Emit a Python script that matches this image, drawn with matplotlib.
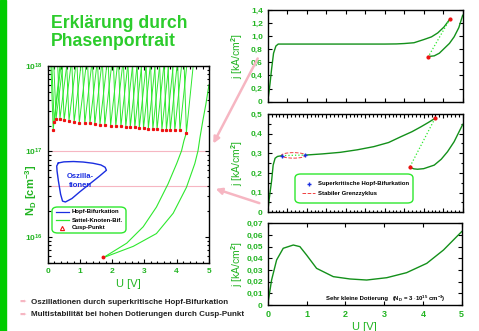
import matplotlib
matplotlib.use('Agg')
import matplotlib.pyplot as plt
import numpy as np
from matplotlib.patches import FancyBboxPatch, FancyArrowPatch, Ellipse, Rectangle
from matplotlib.lines import Line2D
from matplotlib.ticker import FuncFormatter, MultipleLocator, FixedLocator

plt.rcParams['font.family'] = ['Liberation Sans', 'DejaVu Sans']
plt.rcParams['font.weight'] = 'bold'
plt.rcParams['mathtext.fontset'] = 'custom'
plt.rcParams['mathtext.rm'] = 'Liberation Sans:bold'
plt.rcParams['mathtext.bf'] = 'Liberation Sans:bold'
plt.rcParams['mathtext.default'] = 'bf'

W, H = 479, 331
GREEN_TXT = '#22b422'
GREEN_DARK = '#13901a'
GREEN_LIGHT = '#2ee82e'
PINK = '#f6b6c2'

# ---- phase portrait (left) ----
cusp_u = [0.17, 0.20, 0.26, 0.38, 0.51, 0.66, 0.82, 0.98, 1.15, 1.31, 1.46, 1.62, 1.77, 1.95, 2.11,
          2.27, 2.42, 2.56, 2.70, 2.84, 2.97, 3.12, 3.26, 3.39, 3.54, 3.68, 3.80, 3.94, 4.10, 4.30]
cusp_n = [1.78e17, 2.19e17, 2.42e17, 2.42e17, 2.33e17, 2.28e17, 2.21e17, 2.17e17, 2.13e17, 2.12e17,
          2.07e17, 2.06e17, 2.04e17, 2.00e17, 1.99e17, 1.97e17, 1.95e17, 1.93e17, 1.91e17, 1.88e17,
          1.86e17, 1.85e17, 1.83e17, 1.81e17, 1.80e17, 1.79e17, 1.78e17, 1.77e17, 1.76e17, 1.66e17]
branch_top = 1e18
branch_left = 0.07
branch_right = 0.21

sn_left_u = [1.72, 2.45, 2.96, 3.37, 3.73, 4.00, 4.15, 4.22, 4.30]
sn_left_n = [5.75e15, 8.5e15, 1.32e16, 2.24e16, 4.17e16, 7.24e16, 1.02e17, 1.32e17, 1.66e17]
sn_right_u = [1.72, 2.65, 3.37, 3.89, 4.30, 4.56, 4.66, 4.72, 4.81, 4.90, 5.00]
sn_right_n = [5.75e15, 7.8e15, 1.1e16, 1.9e16, 3.8e16, 7.2e16, 1.02e17, 1.45e17, 2.3e17, 3.5e17, 6.0e17]
cusp_main = (1.70, 5.9e15)

hopf_u = [0.33, 0.5, 0.8, 1.1, 1.4, 1.65, 1.78, 1.82, 1.6, 1.3, 1.0, 0.75, 0.55, 0.46, 0.40, 0.33, 0.29, 0.28, 0.33]
hopf_logn = [16.865, 16.878, 16.882, 16.876, 16.862, 16.842, 16.815, 16.78, 16.71, 16.62, 16.53, 16.45,
             16.41, 16.42, 16.50, 16.66, 16.77, 16.83, 16.865]
cut_lines = [1e17, 4e16]

# ---- I-V curves (right) ----
top_u1 = [0, 0.03, 0.06, 0.10, 0.15, 0.21, 0.27, 1.0, 2.0, 3.0, 3.3, 3.5, 3.75, 4.01, 4.2, 4.36, 4.52, 4.67]
top_j1 = [0, 0.13, 0.28, 0.50, 0.74, 0.85, 0.88, 0.88, 0.88, 0.88, 0.882, 0.888, 0.90, 0.95, 0.99, 1.05, 1.14, 1.26]
top_ud = [4.67, 4.12]
top_jd = [1.26, 0.69]
top_u2 = [4.12, 4.27, 4.40, 4.53, 4.66, 4.78, 4.90, 5.0]
top_j2 = [0.69, 0.70, 0.74, 0.815, 0.89, 0.99, 1.13, 1.32]

mid_u1 = [0, 0.04, 0.10, 0.14, 0.19, 0.25, 0.36]
mid_j1 = [0, 0.07, 0.16, 0.24, 0.275, 0.284, 0.288]
mid_uh = [0.36, 0.66, 0.96]
mid_jh = [0.288, 0.290, 0.291]
mid_u2 = [0.96, 1.4, 1.86, 2.3, 2.72, 3.1, 3.41, 3.7, 3.93, 4.12, 4.29]
mid_j2 = [0.291, 0.297, 0.305, 0.318, 0.334, 0.355, 0.384, 0.41, 0.435, 0.457, 0.478]
mid_ud = [4.29, 3.64]
mid_jd = [0.478, 0.229]
mid_u3 = [3.64, 3.75, 3.84, 4.0, 4.27, 4.45, 4.61, 4.78, 5.0]
mid_j3 = [0.229, 0.221, 0.219, 0.222, 0.24, 0.27, 0.308, 0.359, 0.447]
hopf_pts_u = [0.36, 0.96]
hopf_pts_j = [0.288, 0.291]

bot_u = [0, 0.10, 0.23, 0.40, 0.66, 0.83, 1.0, 1.26, 1.69, 2.12, 2.55, 3.07, 3.58, 4.1, 4.53, 5.0]
bot_j = [0, 0.0214, 0.0386, 0.0486, 0.0514, 0.050, 0.0429, 0.0314, 0.0243, 0.0223, 0.0214, 0.0234,
         0.0277, 0.0357, 0.0471, 0.0629]


def rect(x0, y0, x1, y1):
    return [x0 / W, 1 - y1 / H, (x1 - x0) / W, (y1 - y0) / H]


def fp(x, y):
    return (x / W, 1 - y / H)


fig = plt.figure(figsize=(W / 100, H / 100), dpi=100, facecolor='white')

# green bar
fig.patches.append(Rectangle((0, 0), 5.5 / W, 1, transform=fig.transFigure, color='#00cc00', zorder=0))

fig.text(*fp(51, 28), 'Erklärung durch', fontsize=12.7, color='#2ccc2c', fontweight='bold')
fig.text(*fp(51, 46), 'Phasenportrait', fontsize=12.7, color='#2ccc2c', fontweight='bold')


def style_axes(ax):
    ax.tick_params(which='both', direction='in', top=True, right=True,
                   labelsize=6, labelcolor=GREEN_TXT, width=0.8)
    ax.tick_params(which='major', length=3)
    ax.tick_params(which='minor', length=1.8)
    for s in ax.spines.values():
        s.set_linewidth(1.0)


# left panel
axl = fig.add_axes(rect(47.7, 65.7, 209, 263))
style_axes(axl)
axl.set_yscale('log')
axl.set_xlim(0, 5)
axl.set_ylim(10 ** 15.698, 1e18)
for n in cut_lines:
    axl.axhline(n, color=PINK, lw=0.8, zorder=1)
for u, n in zip(cusp_u, cusp_n):
    axl.plot([u - branch_left, u, u + branch_right], [branch_top, n, branch_top],
             color=GREEN_LIGHT, lw=0.7, zorder=2)
axl.plot(sn_left_u, sn_left_n, color=GREEN_LIGHT, lw=0.8, zorder=2)
axl.plot(sn_right_u, sn_right_n, color=GREEN_LIGHT, lw=0.8, zorder=2)
axl.plot(cusp_u, cusp_n, ls='none', marker='s', ms=1.3, color='#ee1111', zorder=3)
axl.plot(*cusp_main, marker='o', ms=1.8, color='#ee1111', zorder=3)
axl.plot(hopf_u, [10 ** v for v in hopf_logn], color='#1a2ee0', lw=1.0, zorder=3)
axl.text(1.0, 10 ** 16.66, 'Oszilla-\ntionen', color='#1a2ee0', fontsize=5.5,
         ha='center', va='center', linespacing=1.4)
axl.yaxis.set_major_locator(FixedLocator([1e16, 1e17, 1e18]))
axl.yaxis.set_major_formatter(FuncFormatter(lambda v, p: r'$\mathbf{10^{%d}}$' % round(np.log10(v))))
axl.xaxis.set_major_locator(MultipleLocator(1))
axl.xaxis.set_minor_locator(MultipleLocator(0.2))
axl.tick_params(axis='y', which='minor', labelleft=False)
axl.set_xlabel('U [V]', fontsize=8, color=GREEN_TXT, labelpad=3)
fig.text(*fp(31, 190), r'N$_{D}$ [cm$^{-3}$]', rotation=90, fontsize=8, color=GREEN_TXT,
         ha='center', va='center')

# left legend
fig.patches.append(FancyBboxPatch(fp(52, 233), 74 / W, 26 / H, transform=fig.transFigure,
                                  boxstyle='round,pad=0,rounding_size=0.012', fc='white',
                                  ec=GREEN_LIGHT, lw=1.0, zorder=5))
leg_l = [('Hopf-Bifurkation', '#1a2ee0', '-', 212), ('Sattel-Knoten-Bif.', GREEN_LIGHT, '-', 220),
         ('Cusp-Punkt', '#ee1111', '^', 228)]
for label, col, sty, yy in leg_l:
    if sty == '-':
        fig.lines.append(Line2D([56 / W, 69 / W], [1 - yy / H] * 2, transform=fig.transFigure,
                                color=col, lw=0.9, zorder=6))
    else:
        fig.lines.append(Line2D([62 / W], [1 - yy / H], transform=fig.transFigure, marker='^',
                                ms=3, mfc='none', mec=col, mew=0.8, ls='none', zorder=6))
    fig.text(*fp(72, yy), label, fontsize=4.3, color='black', va='center', zorder=6)


def comma(dec):
    def f(v, p):
        if abs(v) < 1e-9:
            return '0'
        return ('%.*f' % (dec, v)).replace('.', ',')
    return FuncFormatter(f)


# top right
axt = fig.add_axes(rect(267.7, 10, 462.7, 101.7))
style_axes(axt)
axt.set_xlim(0, 5)
axt.set_ylim(0, 1.4)
axt.plot(top_u1, top_j1, color=GREEN_DARK, lw=1.0)
axt.plot(top_u2, top_j2, color=GREEN_DARK, lw=1.0)
axt.plot(top_ud, top_jd, color=GREEN_LIGHT, lw=0.9, ls=':')
axt.plot([top_ud[0], top_ud[1]], [top_jd[0], top_jd[1]], ls='none', marker='o', ms=2, color='#ee1111')
axt.yaxis.set_major_locator(MultipleLocator(0.2))
axt.yaxis.set_major_formatter(comma(1))
axt.xaxis.set_major_locator(MultipleLocator(0.5))
axt.tick_params(labelbottom=False)

# middle right
axm = fig.add_axes(rect(267.7, 114, 462.7, 212.3))
style_axes(axm)
axm.set_xlim(0, 5)
axm.set_ylim(0, 0.5)
axm.plot(mid_u1, mid_j1, color=GREEN_DARK, lw=1.0)
axm.plot(mid_u2, mid_j2, color=GREEN_DARK, lw=1.0)
axm.plot(mid_u3, mid_j3, color=GREEN_DARK, lw=1.0)
axm.plot(mid_uh, mid_jh, color=GREEN_LIGHT, lw=0.9, ls=':')
axm.plot(mid_ud, mid_jd, color=GREEN_LIGHT, lw=0.9, ls=':')
axm.add_patch(Ellipse((0.66, 0.2895), 0.62, 0.028, fill=False, ec='#f04040', lw=0.7, ls='--'))
axm.plot(hopf_pts_u, hopf_pts_j, ls='none', marker='+', ms=3.5, mew=1.0, color='#1a2ee0')
axm.plot([mid_ud[0], mid_ud[1]], [mid_jd[0], mid_jd[1]], ls='none', marker='o', ms=2, color='#ee1111')
axm.yaxis.set_major_locator(MultipleLocator(0.1))
axm.yaxis.set_minor_locator(MultipleLocator(0.05))
axm.yaxis.set_major_formatter(comma(1))
axm.xaxis.set_major_locator(MultipleLocator(0.5))
axm.xaxis.set_minor_locator(MultipleLocator(0.1))
axm.tick_params(labelbottom=False)

# middle legend
fig.patches.append(FancyBboxPatch(fp(295, 203), 118 / W, 29 / H, transform=fig.transFigure,
                                  boxstyle='round,pad=0,rounding_size=0.012', fc='white',
                                  ec=GREEN_LIGHT, lw=1.0, zorder=5))
fig.lines.append(Line2D([309 / W], [1 - 184 / H], transform=fig.transFigure, marker='+', ms=3.5,
                        mew=1.0, color='#1a2ee0', ls='none', zorder=6))
fig.text(*fp(318, 184), 'Superkritische Hopf-Bifurkation', fontsize=4.3, color='black', va='center', zorder=6)
fig.lines.append(Line2D([302 / W, 315 / W], [1 - 193 / H] * 2, transform=fig.transFigure,
                        color='#f04040', lw=0.7, ls='--', zorder=6))
fig.text(*fp(318, 193), 'Stabiler Grenzzyklus', fontsize=4.3, color='black', va='center', zorder=6)

# bottom right
axb = fig.add_axes(rect(267.7, 223.3, 461.7, 305))
style_axes(axb)
axb.set_xlim(0, 5)
axb.set_ylim(0, 0.07)
axb.plot(bot_u, bot_j, color=GREEN_DARK, lw=1.0)
axb.yaxis.set_major_locator(MultipleLocator(0.01))
axb.yaxis.set_major_formatter(comma(2))
axb.xaxis.set_major_locator(MultipleLocator(1))
axb.set_xlabel('U [V]', fontsize=8, color=GREEN_TXT, labelpad=2)
axb.tick_params(axis='x', labelsize=6.5)
axb.text(0.3, 0.08, 'Sehr kleine Dotierung', transform=axb.transAxes, fontsize=4.3, va='center')
axb.text(0.64, 0.08, r'(N$_{D}$ = 3 $\cdot$10$^{15}$ cm$^{-3}$)', transform=axb.transAxes,
         fontsize=4.3, va='center')

for ax in (axt, axm, axb):
    ax.set_ylabel(r'j [kA/cm$^{ 2}$]', fontsize=7.5, color=GREEN_TXT)
    ax.yaxis.set_label_coords(-0.115, 0.5)

# pink arrows
for a, b in [((259, 56), (212, 146)), ((262, 204), (213, 188))]:
    fig.patches.append(FancyArrowPatch(fp(*a), fp(*b), transform=fig.transFigure, arrowstyle='-|>',
                                       mutation_scale=9, color=PINK, lw=1.8, zorder=0.5))

# bullets
for yy, txt in [(302, 'Oszillationen durch superkritische Hopf-Bifurkation'),
                (315, 'Multistabilität bei hohen Dotierungen durch Cusp-Punkt')]:
    fig.text(*fp(20, yy), '\u27a8', fontsize=6, color=PINK, va='center', family='DejaVu Sans')
    fig.text(*fp(31, yy), txt, fontsize=5.8, color='#222222', va='center')

fig.savefig('out.png', dpi=100, facecolor='white')
